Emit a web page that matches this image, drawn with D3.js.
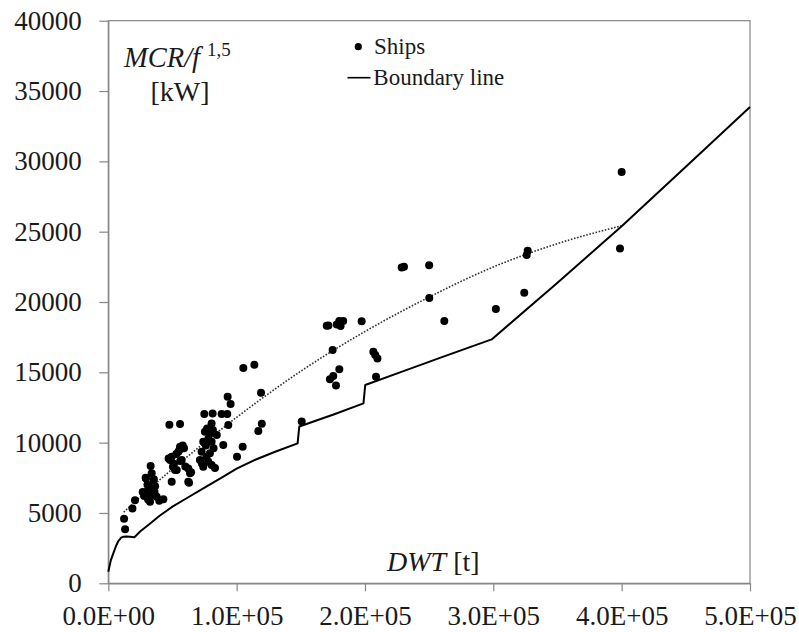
<!DOCTYPE html>
<html>
<head>
<meta charset="utf-8">
<script src="https://cdn.jsdelivr.net/npm/d3@7"></script>
<style>
  html, body { margin: 0; padding: 0; background: #fff; }
  svg { display: block; }
  text { font-family: "Liberation Serif", "Times New Roman", serif; fill: #1a1a1a; }
</style>
</head>
<body>
<svg id="chart" width="799" height="632"></svg>
<script>
// ---------- data ----------
const shipDWT = [
  12300,13100,18800,20800,26800,28000,29100,29400,29900,30500,31000,31500,32000,32500,33000,33800,33800,34000,35000,35500,36000,36500,37700,39700,42900,
  47000,47600,48100,49400,49400,50400,51000,52000,53000,53300,54600,55500,55900,55900,56000,57200,58000,59000,60000,62300,62300,63700,62900,64500,
  71400,72700,73000,74000,74000,74800,75300,76000,76500,77000,77900,78000,79200,79200,80500,80500,80500,81300,81500,82000,83100,84500,88300,89600,92700,93000,93500,95300,
  100300,104700,105200,113800,116900,119000,119600,150700,
  170200,171500,172700,174800,175300,177400,178000,180000,180000,181000,183000,197400,206500,208000,208600,209700,
  228600,230400,250000,250100,261800,302000,324100,326000,326800,398700,400000
];
const shipMCR = [
  4590,3850,5310,5900,6490,6200,7510,7460,6510,7000,5950,6400,6870,5800,8340,7820,6280,6700,7100,7400,6500,6900,6160,5870,5970,
  8880,11270,8760,9000,7220,8290,8500,8050,9200,8050,9350,9500,11320,9710,8700,8760,9800,9600,8300,8170,7220,7820,7150,7900,
  8760,9350,8500,10060,8290,12030,10770,9800,9000,11000,8640,10300,10660,9240,11370,10060,8410,12080,10900,9600,8190,10540,12030,9830,12030,13260,11250,12740,
  9000,9710,15300,15540,10820,13550,11350,11500,
  18310,18330,14500,16580,14730,14070,18400,18650,15210,18300,18650,18640,16460,16230,14680,15990,
  22460,22500,22620,20280,18650,19500,20650,23350,23640,23810,29250
];
const boundaryDWT = [
  0,2000,3900,6000,7800,10000,11700,14000,16900,20300,25000,31200,40000,50000,62000,75000,88000,100000,115000,130000,147500,
  148800,175000,198800,200200,227300,260000,298700,350000,400000,450000,500000
];
const boundaryMCR = [
  820,1650,2130,2650,3000,3250,3310,3330,3310,3270,3700,4150,4800,5450,6100,6800,7500,8150,8800,9350,9950,
  11150,11980,12790,14100,15000,16080,17340,21370,25390,29610,33870
];
const trendDWT = [12000,25000,50000,75000,100000,125000,150000,200000,250000,300000,350000,400000];
const trendMCR = [5060,6140,8130,10000,11800,13490,15080,17900,20350,22490,24150,25420];
const xTicks = [0,100000,200000,300000,400000,500000];
const yTicks = [0,5000,10000,15000,20000,25000,30000,35000,40000];
const legendLabels = ["Ships", "Boundary line"];

// ---------- layout ----------
const svg = d3.select("#chart");
const L = 108.3, R = 750, T = 20.7, B = 583.3;
const x = d3.scaleLinear().domain([0, 500000]).range([L, R]);
const y = d3.scaleLinear().domain([0, 40000]).range([B, T]);
const axisColor = "#868686";

function sci(d) {
  if (d === 0) return "0.0E+00";
  const e = Math.floor(Math.log10(d));
  const m = d / Math.pow(10, e);
  return m.toFixed(1) + "E+" + String(e).padStart(2, "0");
}

// plot border
svg.append("rect")
  .attr("x", L).attr("y", T).attr("width", R - L).attr("height", B - T)
  .attr("fill", "none").attr("stroke", axisColor).attr("stroke-width", 1.2);

// axes
const gx = svg.append("g").attr("transform", `translate(0,${B})`)
  .call(d3.axisBottom(x).tickValues(xTicks).tickFormat(sci).tickSize(8).tickSizeOuter(0).tickPadding(14.5));
const gy = svg.append("g").attr("transform", `translate(${L},0)`)
  .call(d3.axisLeft(y).tickValues(yTicks).tickFormat(d3.format("d")).tickSize(9).tickSizeOuter(0).tickPadding(17.5));
[gx, gy].forEach(g => {
  g.select(".domain").attr("stroke", axisColor).attr("stroke-width", 1.2);
  g.selectAll(".tick line").attr("stroke", axisColor).attr("stroke-width", 1.2);
  g.selectAll(".tick text").attr("font-size", 27).attr("font-family", "Liberation Serif").attr("fill", "#1a1a1a");
});

// trend (dotted)
const trend = trendDWT.map((d, i) => [d, trendMCR[i]]);
svg.append("path").datum(trend)
  .attr("fill", "none").attr("stroke", "#333").attr("stroke-width", 1.6)
  .attr("stroke-dasharray", "1.6,1.6")
  .attr("d", d3.line().x(d => x(d[0])).y(d => y(d[1])).curve(d3.curveMonotoneX));

// boundary line
const boundary = boundaryDWT.map((d, i) => [d, boundaryMCR[i]]);
svg.append("path").datum(boundary)
  .attr("fill", "none").attr("stroke", "#000").attr("stroke-width", 2)
  .attr("stroke-linejoin", "round")
  .attr("d", d3.line().x(d => x(d[0])).y(d => y(d[1])));

// ships
svg.append("g").selectAll("circle")
  .data(shipDWT.map((d, i) => [d, shipMCR[i]]))
  .join("circle")
  .attr("cx", d => x(d[0])).attr("cy", d => y(d[1]))
  .attr("r", 4).attr("fill", "#000");

// legend
svg.append("circle").attr("cx", 358.3).attr("cy", 46.7).attr("r", 3.6).attr("fill", "#000");
svg.append("text").attr("x", 374).attr("y", 54).attr("font-size", 23).text(legendLabels[0]);
svg.append("line").attr("x1", 347.5).attr("x2", 370.5).attr("y1", 77.7).attr("y2", 77.7)
  .attr("stroke", "#000").attr("stroke-width", 1.6);
svg.append("text").attr("x", 373.3).attr("y", 85).attr("font-size", 23).text(legendLabels[1]);

// y axis title
const yt = svg.append("text").attr("x", 124).attr("y", 66.5).attr("font-size", 28.5);
yt.append("tspan").attr("font-style", "italic").text("MCR/f");
yt.append("tspan").attr("font-size", 19).attr("dx", 7).attr("dy", -11).text("1,5");
svg.append("text").attr("x", 150.5).attr("y", 101).attr("font-size", 28).text("[kW]");

// x axis title
const xt = svg.append("text").attr("x", 387).attr("y", 571).attr("font-size", 28);
xt.append("tspan").attr("font-style", "italic").text("DWT");
xt.append("tspan").text(" [t]");
</script>
</body>
</html>
